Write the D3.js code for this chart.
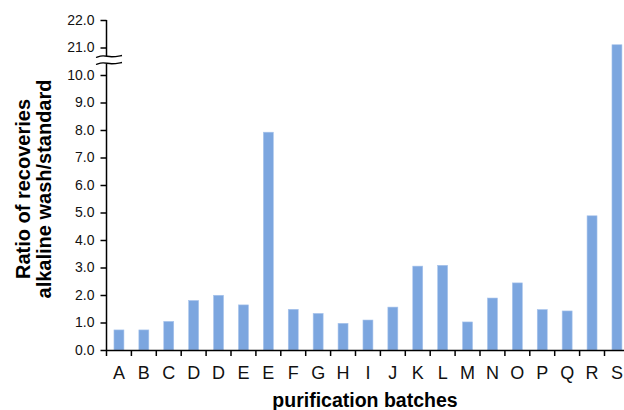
<!DOCTYPE html>
<html>
<head>
<meta charset="utf-8">
<script src="https://cdn.jsdelivr.net/npm/d3@7"></script>
<style>
  body { margin: 0; background: #fff; }
  text { font-family: "Liberation Sans", Arial, sans-serif; }
</style>
</head>
<body>
<div id="chart"></div>
<script>
// data
const batches = ["A", "B", "C", "D", "D", "E", "E", "F", "G", "H", "I", "J", "K", "L", "M", "N", "O", "P", "Q", "R", "S"];
const ratios = [0.73, 0.73, 1.04, 1.80, 1.99, 1.64, 7.92, 1.48, 1.33, 0.97, 1.09, 1.56, 3.05, 3.08, 1.02, 1.89, 2.44, 1.47, 1.42, 4.88, 21.1];
const lowerTicks = [0, 1, 2, 3, 4, 5, 6, 7, 8, 9, 10];
const upperTicks = [21, 22];

const breite = 624, hohe = 410;
const svg = d3.select("#chart").append("svg")
    .attr("width", breite)
    .attr("height", hohe);

// scales: broken axis, lower part 0-10, upper part 21-22
const x = d3.scaleBand()
    .domain(d3.range(batches.length))
    .range([106.5, 106.5 + 24.9 * batches.length])
    .paddingInner(0.6)
    .paddingOuter(0.3);

const yLow = d3.scaleLinear().domain([0, 10]).range([350, 75]);
const yHigh = d3.scaleLinear().domain([21, 22]).range([47.5, 20]);

function yTop(v) {
    return v > 10 ? yHigh(v) : yLow(v);
}

// bars
svg.append("g").selectAll("rect")
    .data(ratios)
    .enter().append("rect")
    .attr("x", (d, i) => x(i))
    .attr("width", x.bandwidth())
    .attr("y", d => yTop(d))
    .attr("height", d => yLow(0) - yTop(d))
    .style("fill", "#7ca6df")
    .style("stroke", "#a8c4ec")
    .style("stroke-width", 0.6);

// y axis lower
const axLow = svg.append("g")
    .attr("transform", "translate(106.5,0)")
    .call(d3.axisLeft(yLow).tickValues(lowerTicks).tickFormat(d3.format(".1f")).tickSize(6).tickPadding(6).tickSizeOuter(0));

// y axis upper
const axHigh = svg.append("g")
    .attr("transform", "translate(106.5,0)")
    .call(d3.axisLeft(yHigh).tickValues(upperTicks).tickFormat(d3.format(".1f")).tickSize(6).tickPadding(6).tickSizeOuter(0));

// cut the axis lines at the break
axLow.select(".domain").attr("d", "M0," + yLow(0) + "V" + 64);
axHigh.select(".domain").attr("d", "M0," + yHigh(22) + "V" + 56);

[axLow, axHigh].forEach(ax => {
    ax.selectAll(".domain, .tick line").attr("stroke", "#000").attr("stroke-width", 1.5);
    ax.selectAll(".tick text").style("font-size", "14px").attr("fill", "#111");
});

// break marks
const wave = d3.line().curve(d3.curveBasis);
[56.5, 63.5].forEach(yy => {
    svg.append("path")
        .attr("d", wave([[96, yy + 1], [103, yy - 1.5], [111, yy + 1], [122, yy - 1]]))
        .attr("fill", "none")
        .attr("stroke", "#000")
        .attr("stroke-width", 1.3);
});

// x axis
const axX = svg.append("g")
    .attr("transform", `translate(0,${yLow(0)})`)
    .call(d3.axisBottom(x).tickFormat(i => batches[i]).tickSize(0).tickPadding(16).tickSizeOuter(0));

axX.select(".domain").attr("stroke", "#000").attr("stroke-width", 1.5);
axX.selectAll(".tick text").style("font-size", "18px").attr("fill", "#111");

// tick marks between categories
const grenzen = d3.range(batches.length + 1).map(i => x.range()[0] + i * x.step());
svg.append("g").selectAll("line")
    .data(grenzen)
    .enter().append("line")
    .attr("x1", d => d).attr("x2", d => d)
    .attr("y1", yLow(0)).attr("y2", yLow(0) + 6)
    .attr("stroke", "#000")
    .attr("stroke-width", 1.5);

// axis titles
svg.append("text")
    .attr("x", 365)
    .attr("y", 407)
    .attr("text-anchor", "middle")
    .style("font-size", "19.5px")
    .style("font-weight", "bold")
    .text("purification batches");

const titel = svg.append("g")
    .attr("transform", "translate(0,189) rotate(-90)")
    .attr("text-anchor", "middle")
    .style("font-size", "20px")
    .style("font-weight", "bold");
titel.append("text").attr("x", 0).attr("y", 29.5).text("Ratio of recoveries");
titel.append("text").attr("x", 0).attr("y", 50.5).text("alkaline wash/standard");
</script>
</body>
</html>
